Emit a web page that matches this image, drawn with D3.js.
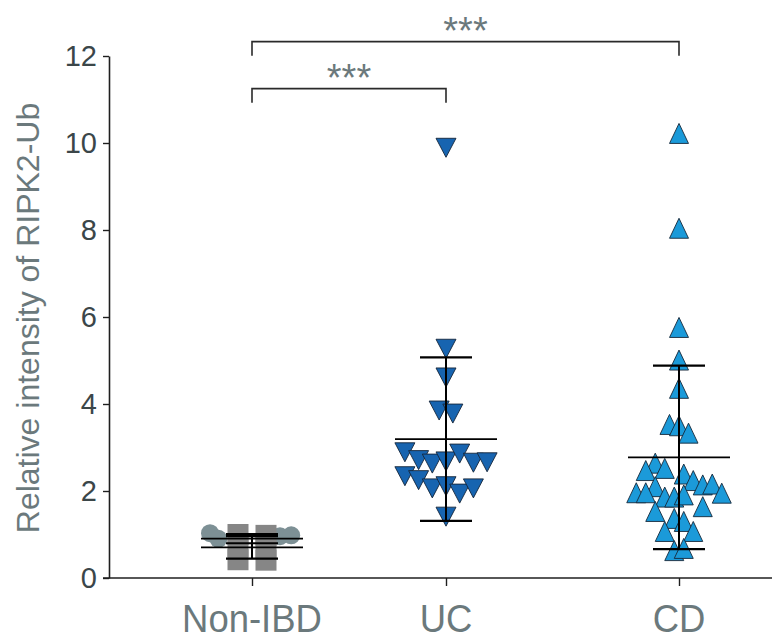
<!DOCTYPE html>
<html>
<head>
<meta charset="utf-8">
<script src="https://cdn.jsdelivr.net/npm/d3@7"></script>
<style>
  html, body { margin: 0; padding: 0; background: #ffffff; }
  svg { display: block; font-family: "Liberation Sans", Arial, sans-serif; }
</style>
</head>
<body>
<script>
// Groups along the x axis
const groups = ["Non-IBD", "UC", "CD"];

// Non-IBD: two marker sets (circles and squares)
const nonIbdCircleValues = [1.03, 0.90, 0.76, 0.80, 0.96, 0.98];
const nonIbdCircleSlots  = [-3, -2.4, -1, 1, 2, 2.8];
const nonIbdSquareValues = [1.00, 0.72, 0.42, 0.98, 0.70, 0.41];
const nonIbdSquareSlots  = [-1, -1, -1, 1, 1, 1];

// UC: relative intensity per sample, with its column slot
const ucValues = [9.89, 5.27, 4.61, 3.85, 3.78,
                  2.89, 2.71, 2.63, 2.68, 2.86, 2.65, 2.66,
                  2.34, 2.25, 2.06, 2.11, 1.94, 2.06, 1.41];
const ucSlots  = [0, 0, 0, -0.5, 0.5,
                  -3, -2, -1, 0, 1, 2, 3,
                  -3, -2, -1, 0, 1, 2, 0];

// CD: relative intensity per sample, with its column slot
const cdValues = [10.22, 8.04, 5.76, 5.01, 4.36, 3.53, 3.50, 3.33,
                  2.64, 2.52, 2.47, 2.39, 2.24, 2.14, 2.16, 2.10,
                  1.96, 1.96, 1.95, 1.86, 1.86, 1.91, 1.53, 1.64,
                  1.37, 1.30, 1.07, 1.07, 0.63, 0.68];
const cdSlots  = [0, 0, 0, 0, 0, -1, 0, 1,
                  -2.5, -1.5, -3.5, 0.5, 1.5, 2.5, 3.5, -2.5,
                  -4.5, -3.5, 4.5, -1.5, -0.5, 0.5, -2.5, 2.5,
                  -0.5, 0.5, -1.5, 1.5, -0.5, 0.5];

// Axis ticks and significance comparisons
const yTicks = [0, 2, 4, 6, 8, 10, 12];
const sigFrom   = ["Non-IBD", "Non-IBD"];
const sigTo     = ["UC", "CD"];
const sigLabels = ["***", "***"];

// ---- drawing ----
const W = 772, H = 641;
const svg = d3.select("body").append("svg").attr("width", W).attr("height", H);

const y = d3.scaleLinear().domain([0, 12]).range([578, 56]);
const x = d3.scaleOrdinal().domain(groups).range([252, 446, 679]);

const axisColor = "#1f1f1f";
const tickText = "#3b4649";
const softText = "#6b797c";

// y axis
const yAxis = d3.axisLeft(y).tickValues(yTicks).tickSize(6).tickSizeOuter(0).tickPadding(6)
  .tickFormat(d3.format("d"));
const gy = svg.append("g").attr("transform", "translate(109,0)").call(yAxis);
gy.select(".domain").attr("stroke", axisColor).attr("stroke-width", 1.6);
gy.selectAll(".tick line").attr("stroke", axisColor).attr("stroke-width", 1.4);
gy.selectAll(".tick text").attr("fill", tickText)
  .style("font-family", "'Liberation Sans', Arial, sans-serif").style("font-size", "29px");

// x axis
svg.append("line").attr("x1", 103).attr("x2", W).attr("y1", y(0)).attr("y2", y(0))
  .attr("stroke", axisColor).attr("stroke-width", 1.6);
const xAxis = d3.axisBottom(x).tickSize(8).tickPadding(0).tickFormat("");
const gx = svg.append("g").attr("transform", `translate(0,${y(0)})`).call(xAxis);
gx.select(".domain").remove();
gx.selectAll(".tick line").attr("stroke", axisColor).attr("stroke-width", 1.4);

// x category labels (condensed)
groups.forEach(g => {
  svg.append("text")
    .attr("transform", `translate(${x(g)},632) scale(0.96,1)`)
    .attr("text-anchor", "middle")
    .attr("fill", softText)
    .style("font-size", "38px")
    .text(g);
});

// y axis title
svg.append("text")
  .attr("transform", "translate(39,318) rotate(-90)")
  .attr("text-anchor", "middle")
  .attr("fill", softText)
  .style("font-size", "32px")
  .text("Relative intensity of RIPK2-Ub");

// marker shapes
const triUp = (w, h) => `M0,${-h / 2}L${w / 2},${h / 2}L${-w / 2},${h / 2}Z`;
const triDown = (w, h) => `M0,${h / 2}L${w / 2},${-h / 2}L${-w / 2},${-h / 2}Z`;

const pts = (vals, slots, group, step) =>
  vals.map((v, i) => ({ v, cx: x(group) + slots[i] * step, cy: y(v) }));

// Non-IBD circles then squares
const circ = pts(nonIbdCircleValues, nonIbdCircleSlots, "Non-IBD", 14);
svg.append("g").selectAll("circle").data(circ).join("circle")
  .attr("cx", d => d.cx).attr("cy", d => d.cy).attr("r", 9)
  .attr("fill", "#7d9095");
const sq = pts(nonIbdSquareValues, nonIbdSquareSlots, "Non-IBD", 14);
svg.append("g").selectAll("rect").data(sq).join("rect")
  .attr("x", d => d.cx - 10.5).attr("y", d => d.cy - 10.5)
  .attr("width", 21).attr("height", 21)
  .attr("fill", "#868686");

// UC down triangles
const uc = pts(ucValues, ucSlots, "UC", 13.7);
svg.append("g").selectAll("path").data(uc).join("path")
  .attr("transform", d => `translate(${d.cx},${d.cy})`)
  .attr("d", triDown(20, 19))
  .attr("fill", "#1764b0").attr("stroke", "#15263a").attr("stroke-width", 0.9);

// CD up triangles
const cd = pts(cdValues, cdSlots, "CD", 9.5);
svg.append("g").selectAll("path").data(cd).join("path")
  .attr("transform", d => `translate(${d.cx},${d.cy})`)
  .attr("d", triUp(19, 20))
  .attr("fill", "#1b9ad9").attr("stroke", "#16283a").attr("stroke-width", 0.9);

// mean and SD bars per marker set
const summaries = [
  { group: "Non-IBD", vals: nonIbdCircleValues },
  { group: "Non-IBD", vals: nonIbdSquareValues },
  { group: "UC", vals: ucValues },
  { group: "CD", vals: cdValues }
];
const gs = svg.append("g").attr("stroke", "#000").attr("fill", "none");
summaries.forEach(s => {
  const m = d3.mean(s.vals), sd = d3.deviation(s.vals), cx = x(s.group);
  gs.append("line").attr("x1", cx - 51).attr("x2", cx + 51).attr("y1", y(m)).attr("y2", y(m))
    .attr("stroke-width", 1.8);
  gs.append("line").attr("x1", cx).attr("x2", cx).attr("y1", y(m + sd)).attr("y2", y(m - sd))
    .attr("stroke-width", 2);
  [m + sd, m - sd].forEach(v => {
    gs.append("line").attr("x1", cx - 26).attr("x2", cx + 26).attr("y1", y(v)).attr("y2", y(v))
      .attr("stroke-width", 2.2);
  });
});

// significance brackets
const bracketLevels = [11.25, 12.33];
const legDrop = 14;
sigFrom.forEach((f, i) => {
  const x1 = x(f), x2 = x(sigTo[i]), by = y(bracketLevels[i]);
  svg.append("path")
    .attr("d", `M${x1},${by + legDrop}V${by}H${x2}V${by + legDrop}`)
    .attr("fill", "none").attr("stroke", "#2a2a2a").attr("stroke-width", 1.6);
  svg.append("text")
    .attr("x", (x1 + x2) / 2).attr("y", by + 2)
    .attr("text-anchor", "middle").attr("fill", softText)
    .style("font-size", "38px")
    .text(sigLabels[i]);
});
</script>
</body>
</html>
